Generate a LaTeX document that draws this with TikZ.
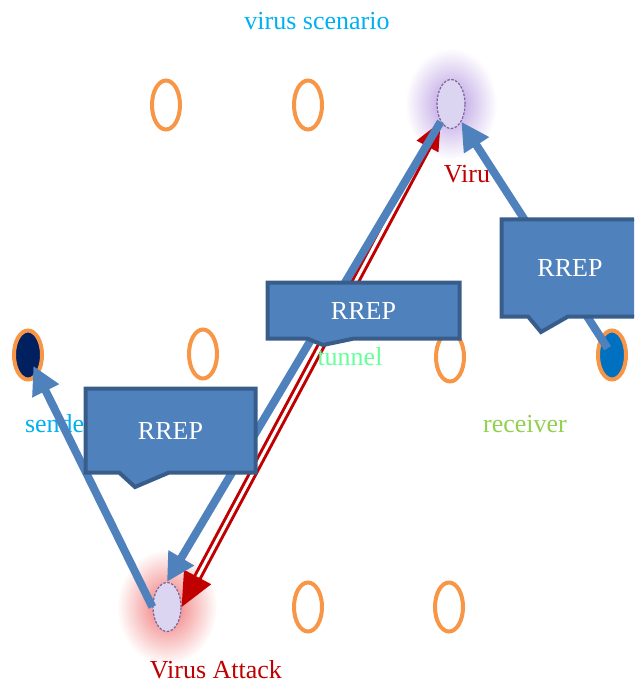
\documentclass[tikz,border=0pt]{standalone}
\usepackage{fontspec}
\setmainfont{Liberation Serif}
\usetikzlibrary{shapes.geometric,shapes.callouts,arrows.meta,backgrounds}
\definecolor{nodeorange}{HTML}{F79646}
\definecolor{arrowblue}{HTML}{4F81BD}
\definecolor{boxedge}{HTML}{385D8A}
\definecolor{darkred}{HTML}{C00000}
\definecolor{titlecyan}{HTML}{00B0F0}
\definecolor{tunnelgreen}{HTML}{66FF99}
\definecolor{recvgreen}{HTML}{92D050}
\definecolor{sendfill}{HTML}{002060}
\definecolor{recvfill}{HTML}{0070C0}
\definecolor{virfill}{HTML}{DCD5F1}
\definecolor{viredge}{HTML}{7B6399}
\definecolor{purpleglow}{HTML}{B496E0}
\definecolor{redglow}{HTML}{F07070}
\tikzset{
  peer/.style={ellipse, draw=nodeorange, line width=4pt, minimum width=28pt, minimum height=49pt, inner sep=0pt},
  infected/.style={ellipse, draw=viredge, fill=virfill, line width=1.2pt, dash pattern=on 2.5pt off 1.5pt, minimum width=28pt, minimum height=49pt, inner sep=0pt},
  lbl/.style={font=\fontsize{26}{30}\selectfont, inner sep=0pt, anchor=base},
  rrep/.style={rectangle callout, draw=boxedge, fill=arrowblue, line width=4pt, text=white, font=\fontsize{26}{30}\selectfont, inner sep=0pt},
  flow/.style={draw=arrowblue, line width=8pt, -{Triangle[length=28pt,width=28pt]}},
  tunnelline/.style={draw=darkred, double=white, line width=3pt, double distance=3pt, {Triangle[length=34pt,width=30pt]}-{Triangle[length=28pt,width=24pt]}}
}
\begin{document}
\begin{tikzpicture}[x=1pt,y=-1pt]
\useasboundingbox (0,0) rectangle (634,684);
\clip (0,0) rectangle (634,684);

% nodes
\node[peer] (t1) at (166,105) {};
\node[peer] (t2) at (308,105) {};
\node[infected] (virus) at (451,104) {};
\node[peer, fill=sendfill] (sender) at (28,355) {};
\node[peer] (m2) at (203,354) {};
\node[peer] (m3) at (450,357) {};
\node[peer, fill=recvfill] (receiver) at (612,355) {};
\node[infected] (attack) at (167,607) {};
\node[peer] (b2) at (308,607) {};
\node[peer] (b3) at (449,607) {};

% glow
\begin{scope}[on background layer]
\shade[inner color=purpleglow, outer color=white] (virus) ellipse (46 and 56);
\shade[inner color=redglow, outer color=white] (attack) ellipse (50 and 58);
\end{scope}

% texts
\node[lbl, text=titlecyan] (title) at (317,30) {virus scenario};
\node[lbl, text=titlecyan] (sendtxt) at (59,432) {sender};
\node[lbl, text=darkred] (virtxt) at (467,183) {Viru};
\node[lbl, text=recvgreen] (recvtxt) at (525,432) {receiver};
\node[lbl, text=darkred] (attacktxt) at (216,678) {Virus Attack};

% paths
\draw[tunnelline] (attack.east) -- (virus.south west);
\draw[flow, shorten >=12pt] (attack.west) -- (sender.center);
\draw[flow] (virus.south west) -- (attack.north);
\draw[flow, shorten <=8pt] (receiver.center) -- (virus.south east);
\node[lbl, text=tunnelgreen] (tuntxt) at (350,365) {tunnel};

% replies
\node[rrep, minimum width=170pt, minimum height=84pt, callout pointer width=50pt,
  callout absolute pointer={(135,487)}] (repA) at (170.5,430.5) {RREP};
\node[rrep, minimum width=192pt, minimum height=56pt, callout pointer width=47pt,
  callout absolute pointer={(323,345)}] (repB) at (363.5,310.5) {RREP};
\node[rrep, minimum width=137pt, minimum height=97pt, callout pointer width=40pt,
  callout absolute pointer={(541,332)}] (repC) at (570,268) {RREP};
\end{tikzpicture}
\end{document}
